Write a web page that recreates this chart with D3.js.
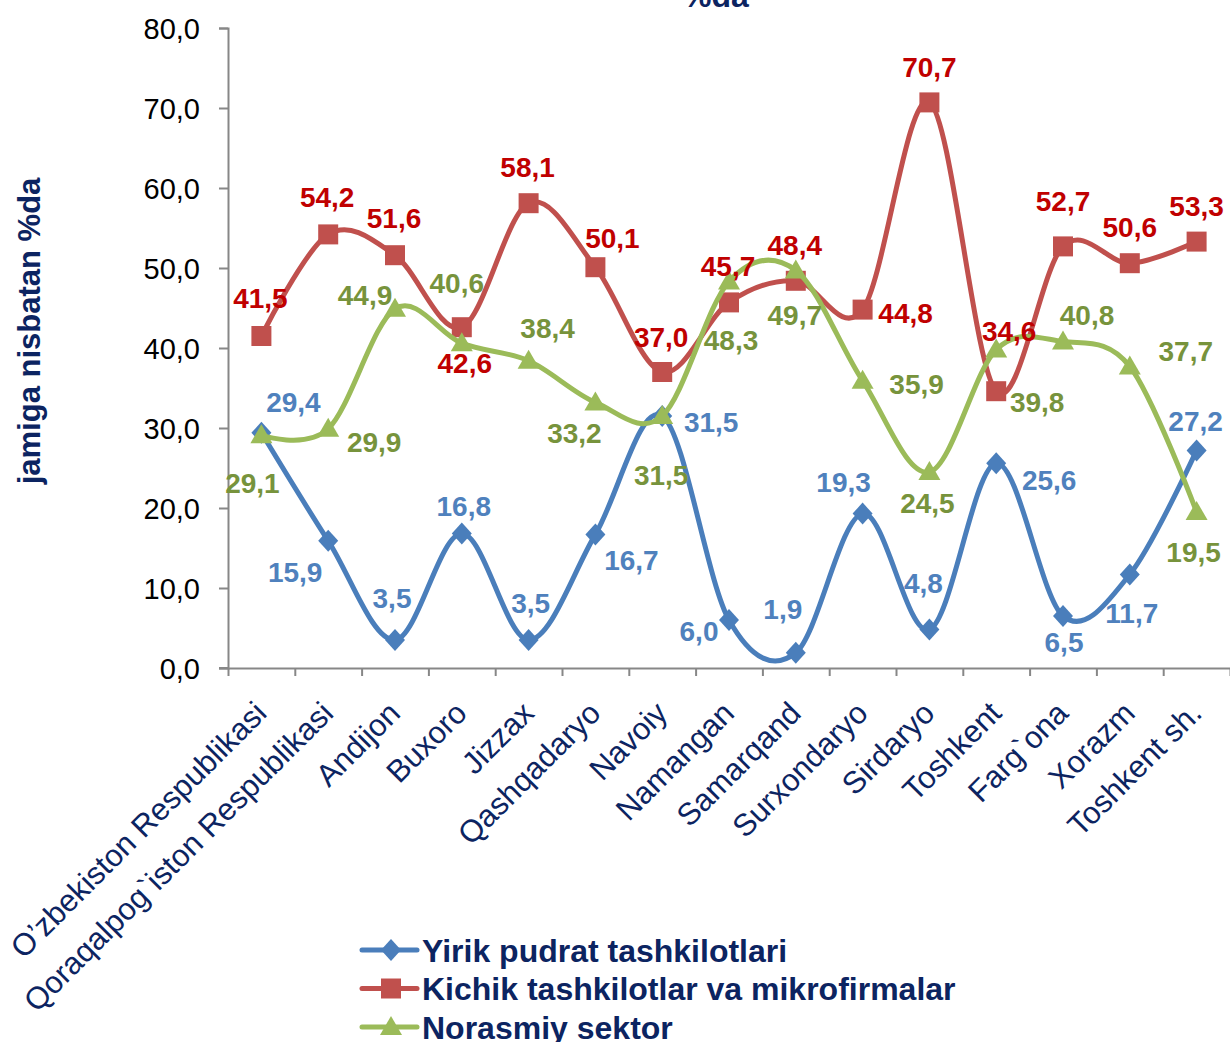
<!DOCTYPE html>
<html>
<head>
<meta charset="utf-8">
<script src="https://cdn.jsdelivr.net/npm/d3@7"></script>
<style>
  body { margin: 0; background: #fff; }
  svg { display: block; font-family: "Liberation Sans", Arial, sans-serif; }
  .yaxis text { font-size: 29px; fill: #000; }
  .axis path, .axis line { stroke: #878787; stroke-width: 2; }
</style>
</head>
<body>
<div id="chart"></div>
<script>
// regions (x categories)
var regions = ["O\u2019zbekiston Respublikasi", "Qoraqalpog`iston Respublikasi", "Andijon", "Buxoro",
  "Jizzax", "Qashqadaryo", "Navoiy", "Namangan", "Samarqand", "Surxondaryo", "Sirdaryo",
  "Toshkent", "Farg`ona", "Xorazm", "Toshkent sh."];

var seriesNames = ["Yirik pudrat tashkilotlari", "Kichik tashkilotlar va mikrofirmalar", "Norasmiy sektor"];

// values, % of total
var yirik = [29.4, 15.9, 3.5, 16.8, 3.5, 16.7, 31.5, 6.0, 1.9, 19.3, 4.8, 25.6, 6.5, 11.7, 27.2];
var kichik = [41.5, 54.2, 51.6, 42.6, 58.1, 50.1, 37.0, 45.7, 48.4, 44.8, 70.7, 34.6, 52.7, 50.6, 53.3];
var norasmiy = [29.1, 29.9, 44.9, 40.6, 38.4, 33.2, 31.5, 48.3, 49.7, 35.9, 24.5, 39.8, 40.8, 37.7, 19.5];

var yTicks = [0, 10, 20, 30, 40, 50, 60, 70, 80];

// where each data label sits relative to its marker (layout only)
var yirikLabelPos = [[32,-31],[-33,31],[-3,-42],[2,-28],[2,-37],[36,26],[49,6],[-30,11],[-13,-44],[-19,-32],[-6,-47],[53,17],[1,26],[2,39],[-1,-29]];
var kichikLabelPos = [[-1,-38],[-1,-37],[-1,-37],[3,36],[-1,-36],[17,-29],[-1,-35],[-1,-36],[-1,-36],[43,3],[0,-35],[13,-60],[0,-45],[0,-36],[0,-36]];
var norasmiyLabelPos = [[-9,48],[46,13],[-30,-14],[-5,-60],[19,-33],[-21,31],[-1,59],[2,58],[-1,45],[54,3],[-2,31],[41,52],[24,-27],[56,-15],[-3,40]];

var svgWidth = 1230;
var svgHeight = 1042;
var margin = { top: 28, right: 0, bottom: 374, left: 228 };
var width = svgWidth - margin.left - margin.right;
var height = svgHeight - margin.top - margin.bottom;

var navy = "#0c2461";

var svg = d3.select("#chart").append("svg")
  .attr("width", svgWidth)
  .attr("height", svgHeight);

var chartGroup = svg.append("g")
  .attr("transform", `translate(${margin.left}, ${margin.top})`);

var xBand = d3.scaleBand().domain(regions).range([0, width]).padding(0);
var xEdge = d3.scaleLinear().domain([0, regions.length]).range([0, width]);
var yScale = d3.scaleLinear().domain([0, 80]).range([height, 0]);

var cx = d => xBand(d) + xBand.bandwidth() / 2;

// y axis
var leftAxis = d3.axisLeft(yScale)
  .tickValues(yTicks)
  .tickSize(9)
  .tickPadding(19)
  .tickFormat(d => d3.format(".1f")(d).replace(".", ","));
chartGroup.append("g")
  .attr("class", "axis yaxis")
  .call(leftAxis)
  .call(g => g.selectAll(".tick text").attr("dy", "0.36em"));

// x axis: ticks on category boundaries
var bottomAxis = d3.axisBottom(xEdge)
  .tickValues(d3.range(regions.length + 1))
  .tickSize(8)
  .tickSizeOuter(0)
  .tickFormat("");
chartGroup.append("g")
  .attr("class", "axis")
  .attr("transform", `translate(0, ${height})`)
  .call(bottomAxis);
// little stub where 0 tick crosses
chartGroup.append("line")
  .attr("x1", -9).attr("x2", 0)
  .attr("y1", height).attr("y2", height)
  .attr("stroke", "#878787").attr("stroke-width", 2);

// category labels, rotated
chartGroup.append("g").selectAll("text")
  .data(regions)
  .enter()
  .append("text")
  .attr("transform", d => `translate(${cx(d) + 7}, ${height + 47}) rotate(-45)`)
  .attr("text-anchor", "end")
  .attr("font-size", 31)
  .attr("fill", navy)
  .text(d => d);

// y title
svg.append("text")
  .attr("transform", "translate(40, 331) rotate(-90)")
  .attr("text-anchor", "middle")
  .attr("font-size", 31)
  .attr("font-weight", "bold")
  .attr("fill", navy)
  .text("jamiga nisbatan %da");

// chart title (mostly cut off at the top)
svg.append("text")
  .attr("x", 716)
  .attr("y", 7)
  .attr("text-anchor", "middle")
  .attr("font-size", 32)
  .attr("font-weight", "bold")
  .attr("fill", navy)
  .text("%da");

var series = [
  { name: seriesNames[0], values: yirik, labelPos: yirikLabelPos, line: "#4a7ebb", label: "#4f81bd", marker: "diamond" },
  { name: seriesNames[1], values: kichik, labelPos: kichikLabelPos, line: "#c0504d", label: "#c00000", marker: "square" },
  { name: seriesNames[2], values: norasmiy, labelPos: norasmiyLabelPos, line: "#9bbb59", label: "#77933c", marker: "triangle" }
];

var symbolPath = {
  diamond: "M0,-11L10,0L0,11L-10,0Z",
  square: "M-10,-10L10,-10L10,10L-10,10Z",
  triangle: "M0,-11L11,8L-11,8Z"
};

var line = d3.line()
  .x((d, i) => cx(regions[i]))
  .y(d => yScale(d))
  .curve(d3.curveCatmullRom.alpha(0));

series.forEach(s => {
  var g = chartGroup.append("g");
  g.append("path")
    .datum(s.values)
    .attr("fill", "none")
    .attr("stroke", s.line)
    .attr("stroke-width", 5)
    .attr("stroke-linejoin", "round")
    .attr("d", line);
  g.selectAll("path.mk")
    .data(s.values)
    .enter()
    .append("path")
    .attr("class", "mk")
    .attr("d", symbolPath[s.marker])
    .attr("fill", s.line)
    .attr("transform", (d, i) => `translate(${cx(regions[i])}, ${yScale(d)})`);
});

// data labels on top
series.forEach(s => {
  chartGroup.append("g").selectAll("text")
    .data(s.values)
    .enter()
    .append("text")
    .attr("x", (d, i) => cx(regions[i]) + s.labelPos[i][0])
    .attr("y", (d, i) => yScale(d) + s.labelPos[i][1])
    .attr("dy", "0.36em")
    .attr("text-anchor", "middle")
    .attr("font-size", 28)
    .attr("font-weight", "bold")
    .attr("fill", s.label)
    .text(d => d3.format(".1f")(d).replace(".", ","));
});

// legend
var legend = svg.append("g").attr("transform", "translate(362, 950)");
series.forEach((s, i) => {
  var row = legend.append("g").attr("transform", `translate(0, ${i * 38.5})`);
  row.append("line")
    .attr("x1", 0).attr("x2", 55)
    .attr("stroke", s.line)
    .attr("stroke-width", 5)
    .attr("stroke-linecap", "round");
  row.append("path")
    .attr("d", symbolPath[s.marker])
    .attr("fill", s.line)
    .attr("transform", "translate(29, 0)");
  row.append("text")
    .attr("x", 60)
    .attr("dy", "0.36em")
    .attr("font-size", 32)
    .attr("font-weight", "bold")
    .attr("fill", navy)
    .text(s.name);
});
</script>
</body>
</html>
